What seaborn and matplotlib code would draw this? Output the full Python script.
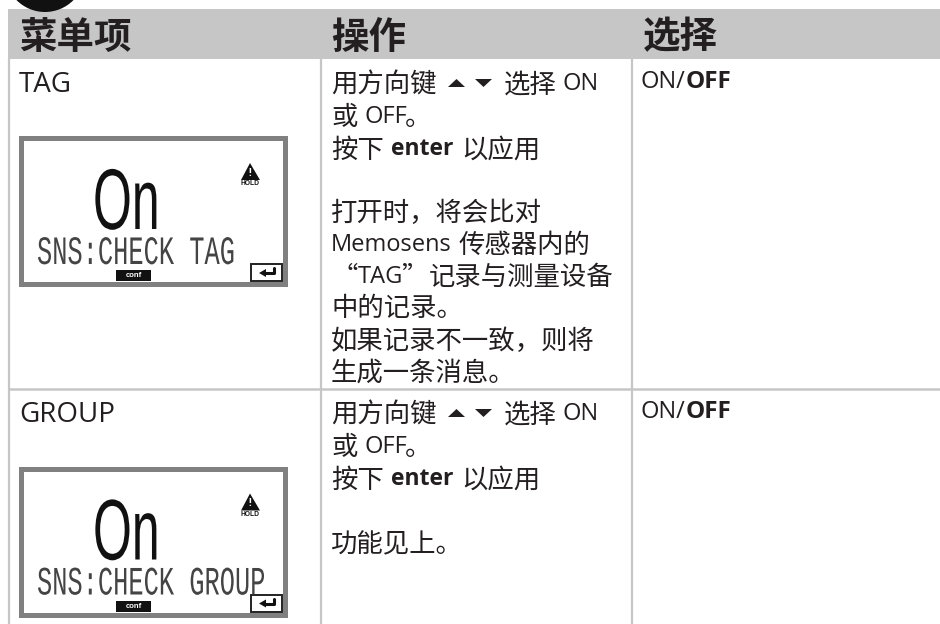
import matplotlib
matplotlib.use('Agg')
import matplotlib.pyplot as plt
from matplotlib.patches import Circle, Rectangle, Polygon
from matplotlib.patheffects import AbstractPathEffect
from matplotlib.transforms import Affine2D
import seaborn as sns

# table content
headers = ['菜单项', '操作', '选择']
menu_items = ['TAG', 'GROUP']
lcd_lines = ['SNS:CHECK TAG', 'SNS:CHECK GROUP']
choice_on = 'ON/'
choice_off = 'OFF'
row_one_lines = ['打开时，将会比对', '传感器内的', '记录与测量设备', '中的记录。', '如果记录不一致，则将', '生成一条消息。']
row_two_note = '功能见上。'

sns.set_theme(style='white')
cjk = ['Noto Sans CJK SC', 'DejaVu Sans']
latin = ['Open Sans', 'Noto Sans CJK SC', 'DejaVu Sans']
plt.rcParams['font.family'] = latin

GREY = '#c6c6c6'
INK = '#231f20'

fig = plt.figure(figsize=(9.4, 6.24), dpi=100)
ax = fig.add_axes([0, 0, 1, 1])
ax.set_xlim(0, 940)
ax.set_ylim(624, 0)
ax.axis('off')
sns.despine(ax=ax, left=True, bottom=True)


# narrow the LCD lettering, no condensed family is installed
class Squeeze(AbstractPathEffect):
    def __init__(self, x0, sx):
        super().__init__()
        self.x0 = x0
        self.sx = sx

    def draw_path(self, renderer, gc, tpath, affine, rgbFace=None):
        squeeze = Affine2D().translate(-self.x0, 0).scale(self.sx, 1).translate(self.x0, 0)
        renderer.draw_path(gc, tpath, affine + squeeze, rgbFace)


def put(x, y, s, size=19, weight='normal', family=cjk, color=INK):
    return ax.text(x, y, s, fontsize=size, fontweight=weight, family=family,
                   color=color, ha='left', va='center_baseline')


# header band and rules
ax.add_patch(Rectangle((8, 9), 932, 49.5, color=GREY, lw=0))
ax.add_patch(Circle((45, -28), 40, color='#111111', lw=0, zorder=3))
for x in [9, 321, 632]:
    ax.plot([x, x], [58, 624], color=GREY, lw=1.6, solid_capstyle='butt')
ax.plot([8, 940], [388.5, 388.5], color=GREY, lw=1.8, solid_capstyle='butt')

for x, h in zip([19, 331, 643], headers):
    put(x, 33, h, size=27, weight='bold')


def lcd(top, line):
    ax.add_patch(Rectangle((21, top + 2), 264, 146, fc='white', ec='#808080', lw=3.6))
    big = put(93, top + 62, 'On', size=62, family=['Liberation Sans', 'DejaVu Sans'], color='#111111')
    big.set_path_effects([Squeeze(93, 0.58)])
    small = put(37, top + 113, line, size=29, family=['Liberation Mono', 'DejaVu Sans'], color='#444444')
    small.set_path_effects([Squeeze(37, 0.63)])
    # warning sign with HOLD
    ax.add_patch(Polygon([[250, top + 27], [241, top + 44], [260, top + 44]], color='#111111', lw=0))
    ax.text(250, top + 37, '!', color='white', fontsize=7, fontweight='bold', ha='center', va='center')
    ax.text(250, top + 47.5, 'HOLD', color='#111111', fontsize=4.8, fontweight='bold', ha='center', va='center',
            family='Liberation Sans')
    # conf tag
    ax.add_patch(Rectangle((116, top + 134), 35, 11, color='#111111', lw=0))
    ax.text(133.5, top + 139.5, 'conf', color='white', fontsize=5.5, fontweight='bold', ha='center', va='center',
            family='Liberation Sans')
    # enter key
    ax.add_patch(Rectangle((250.5, top + 128), 31, 17, fc='white', ec='#222222', lw=1.4))
    ax.plot([274, 274, 264], [top + 132, top + 137, top + 137], color='#111111', lw=2.2)
    ax.add_patch(Polygon([[259, top + 137], [266, top + 133], [266, top + 141]], color='#111111', lw=0))


def row(top, name, lcd_top, line):
    put(19, top + 22, name, size=20, family=latin)
    lcd(lcd_top, line)
    # operation cell
    put(331, top + 23, '用方向键')
    ax.add_patch(Polygon([[456.5, top + 20], [448, top + 28], [465, top + 28]], color=INK, lw=0))
    ax.add_patch(Polygon([[475, top + 20], [492, top + 20], [483.5, top + 28]], color=INK, lw=0))
    put(504, top + 23, '选择')
    put(562, top + 22, 'ON', size=17, family=latin)
    put(331, top + 55.5, '或')
    put(364, top + 55, 'OFF', size=17, family=latin)
    put(405, top + 55.5, '。')
    put(331, top + 88, '按下')
    put(391, top + 87, 'enter', size=16.5, weight='bold', family=latin)
    put(461, top + 88, '以应用')
    # selection cell
    put(641, top + 20, choice_on, size=17, family=latin)
    put(686, top + 20, choice_off, size=17.5, weight='bold', family=latin)


row(59, menu_items[0], 136, lcd_lines[0])
row(389, menu_items[1], 466.5, lcd_lines[1])

put(331, 210, row_one_lines[0])
put(331, 242, 'Memosens', size=17, family=latin)
put(459, 242, row_one_lines[1])
put(332, 274, '“')
put(358, 274, 'TAG', size=17, family=latin)
put(402, 274, '”')
put(429, 274, row_one_lines[2])
put(331, 306, row_one_lines[3])
put(331, 338, row_one_lines[4])
put(331, 370, row_one_lines[5])
put(331, 542, row_two_note)

fig.savefig('out.png', dpi=100)
